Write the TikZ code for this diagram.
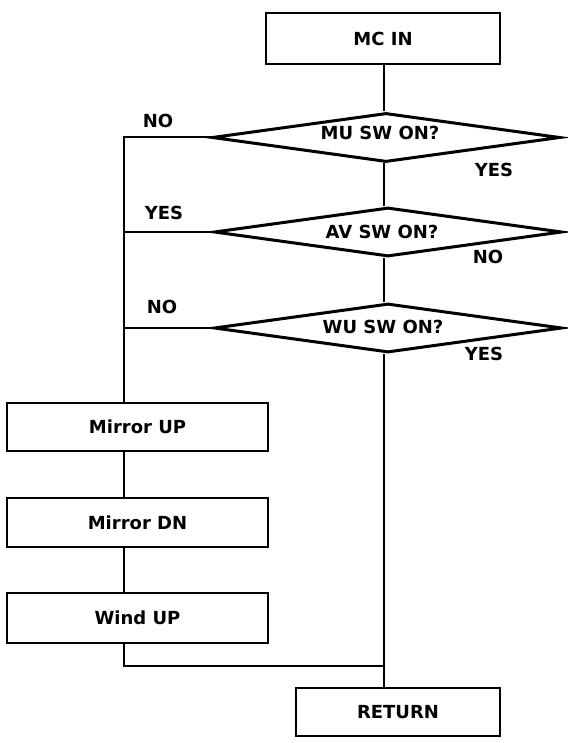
\documentclass[tikz,border=0pt]{standalone}
\usepackage{fontspec}
\setmainfont{DejaVu Sans}
\usetikzlibrary{shapes.geometric}
\tikzset{
  txt/.style={font=\fontsize{18}{20}\selectfont\bfseries},
  procbox/.style={draw, line width=2.5pt, rectangle, inner sep=0pt, txt},
  decision/.style={draw, line width=3pt, diamond, aspect=7, inner sep=0pt, minimum width=348pt, minimum height=49pt},
  dtext/.style={txt, inner sep=0pt},
  lbl/.style={txt, inner sep=0pt},
  conn/.style={line width=2pt}
}
\begin{document}
\begin{tikzpicture}[x=1pt,y=-1pt]
\useasboundingbox (0,0) rectangle (567,743);
% process boxes
\node[procbox, minimum width=234pt, minimum height=51pt] (mcin) at (383,38.5) {MC IN};
\node[procbox, minimum width=261pt, minimum height=48pt] (mup) at (137.5,427) {Mirror UP};
\node[procbox, minimum width=261pt, minimum height=49pt] (mdn) at (137.5,522.5) {Mirror DN};
\node[procbox, minimum width=261pt, minimum height=50pt] (wup) at (137.5,618) {Wind UP};
\node[procbox, minimum width=204pt, minimum height=48pt] (ret) at (398,712) {RETURN};
% decisions
\node[decision] (d1) at (386,137.5) {};
\node[dtext] at (380,133) {MU SW ON?};
\node[decision] (d2) at (388,232) {};
\node[dtext] at (382,232) {AV SW ON?};
\node[decision] (d3) at (388,328) {};
\node[dtext] at (383,327) {WU SW ON?};
% labels
\node[lbl] at (158,121) {NO};
\node[lbl] at (494,170) {YES};
\node[lbl] at (164,213) {YES};
\node[lbl] at (488,257) {NO};
\node[lbl] at (162,307) {NO};
\node[lbl] at (484,354) {YES};
% coordinates
\coordinate (lx) at (124,0);
\coordinate (mx) at (384,0);
\coordinate (join) at (384,666);
% main line
\draw[conn] (mcin.south -| mx) -- (mx |- d1.north);
\draw[conn] (mx |- d1.south) -- (mx |- d2.north);
\draw[conn] (mx |- d2.south) -- (mx |- d3.north);
\draw[conn] (mx |- d3.south) -- (mx |- ret.north);
% left branches
\draw[conn] (d1.west) -- (d1.west -| lx) -- (lx |- mup.north);
\draw[conn] (d2.west) -- (d2.west -| lx);
\draw[conn] (d3.west) -- (d3.west -| lx);
\draw[conn] (lx |- mup.south) -- (lx |- mdn.north);
\draw[conn] (lx |- mdn.south) -- (lx |- wup.north);
\draw[conn] (lx |- wup.south) -- (lx |- join) -- (join);
\end{tikzpicture}
\end{document}
